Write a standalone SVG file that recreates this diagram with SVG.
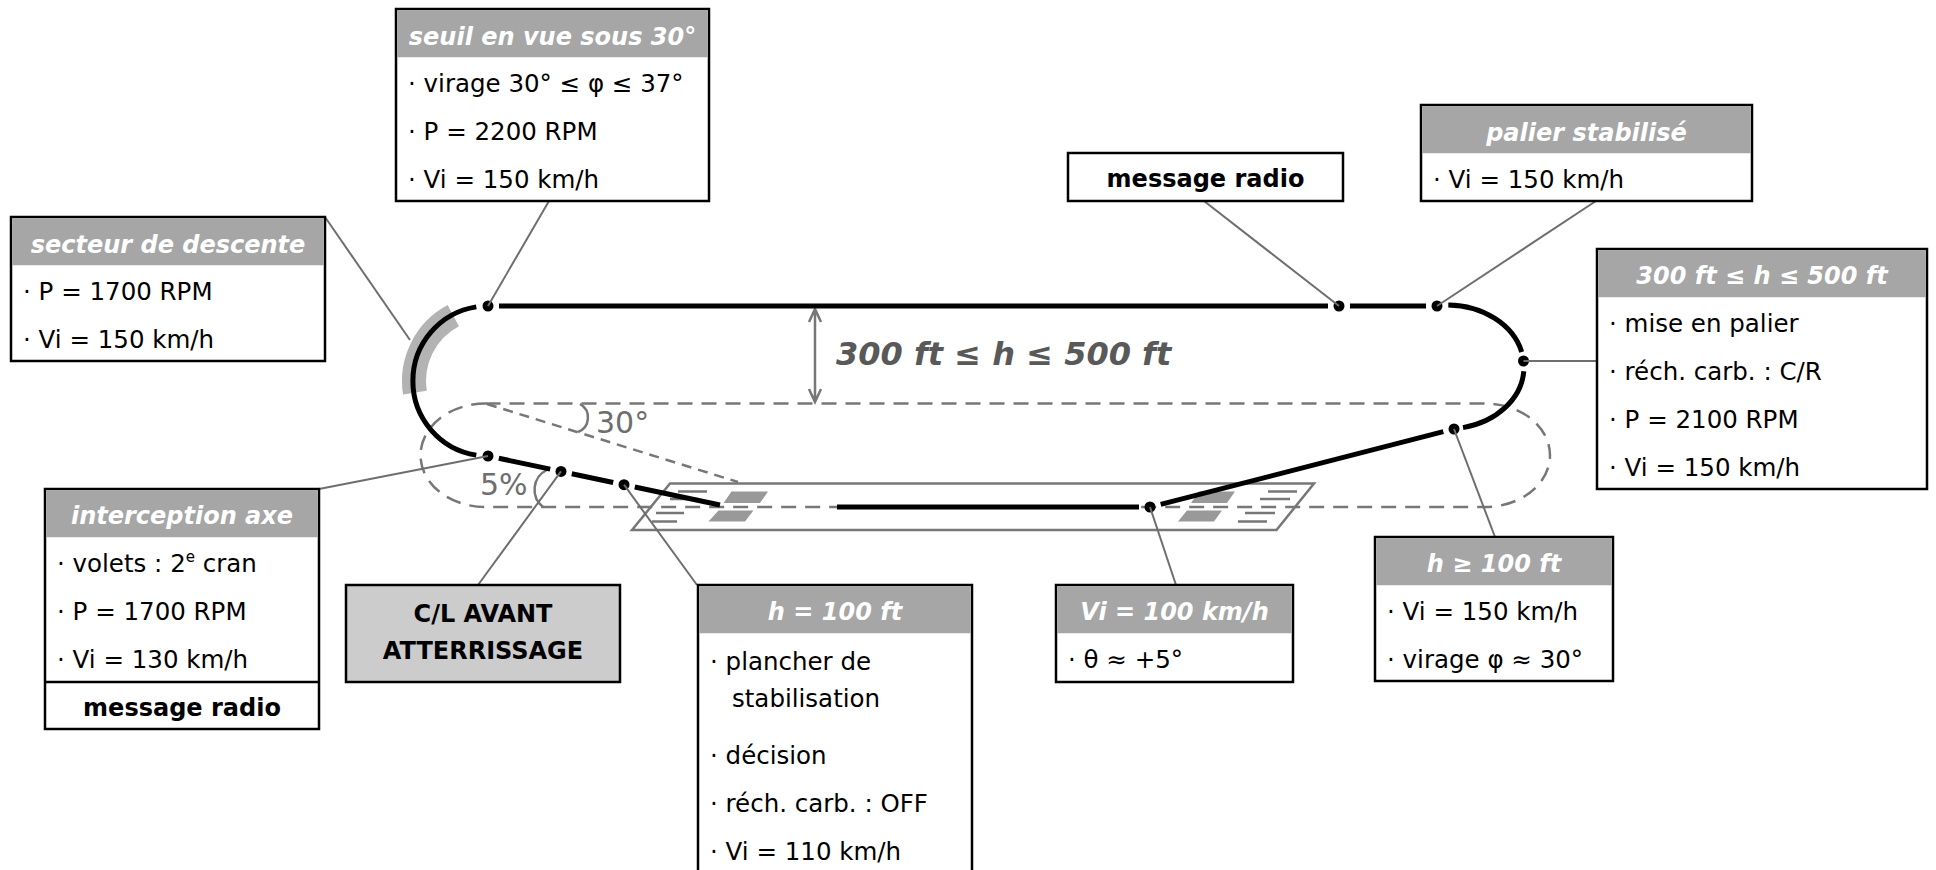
<svg xmlns="http://www.w3.org/2000/svg" width="1936" height="870" viewBox="0 0 1936 870">
<style>
.box{fill:#fff;stroke:#000;stroke-width:2.5}
.hdr{fill:#a6a6a6}
.ht{font-family:"DejaVu Sans",Verdana,sans-serif;font-size:24px;font-weight:bold;font-style:italic;fill:#fff;text-anchor:middle}
.bt{font-family:"DejaVu Sans",Verdana,sans-serif;font-size:24.5px;fill:#000}
.bb{font-family:"DejaVu Sans",Verdana,sans-serif;font-size:24px;font-weight:bold;fill:#000;text-anchor:middle}
.lead{stroke:#6e6e6e;stroke-width:2;fill:none}
.path{stroke:#000;stroke-width:5;fill:none}
.dot{fill:#000}
.dash{stroke:#777;stroke-width:2.5;fill:none;stroke-dasharray:15 9}
.thin{stroke:#777;stroke-width:2.5;fill:none}
.mark{fill:#999}
.gt{font-family:"DejaVu Sans",Verdana,sans-serif;font-size:30px;fill:#6e6e6e}
</style>

<g id="ground">
  <rect class="dash" x="420.5" y="403.5" width="1129.5" height="103.5" rx="65" ry="51.75"/>
  <polygon class="thin" points="670,483.5 1314,483.5 1276.5,530 632,530"/>
  <polygon class="mark" points="731.5,491.5 768,491.5 760,503 723.5,503"/>
  <polygon class="mark" points="718.5,510.5 753.5,510.5 745,521.5 708.5,521.5"/>
  <polygon class="mark" points="1199,491.5 1235,491.5 1227,503 1191,503"/>
  <polygon class="mark" points="1187,510.5 1222,510.5 1214,521.5 1178,521.5"/>
  <path class="thin" d="M678 491.5H707M670 499H698M656 513H684M652 521.5H677"/>
  <path class="thin" d="M1268 491.5H1297M1260 499H1290M1245 513H1275M1238 521.5H1267"/>
  <line x1="487" y1="404" x2="738" y2="482" stroke="#777" stroke-width="2.5" stroke-dasharray="10 7"/>
  <path class="thin" d="M580 404A15.5 15.5 0 0 1 578 432"/>
  <text class="gt" x="596" y="433">30°</text>
  <path class="thin" d="M546.7 470A22 22 0 0 0 543 507"/>
  <text class="gt" x="480" y="495">5%</text>
  <path class="thin" stroke-width="2" d="M815 309V402M809 322L815 309L821 322M809 389L815 402L821 389"/>
  <text x="836" y="365" font-family="'DejaVu Sans',Verdana,sans-serif" font-size="32" font-weight="bold" font-style="italic" fill="#595959">300 ft ≤ h ≤ 500 ft</text>
</g>

<g id="circuit">
  <path d="M414.9 392.6A74 74 0 0 1 453.3 315.7" stroke="#b3b3b3" stroke-width="24" fill="none"/>
  <path class="path" d="M476.3 306.9A75 75 0 0 0 476.3 455.1"/>
  <path class="path" d="M499 306H1328M1350 306H1426"/>
  <path class="path" d="M1448.3 305A77 62 0 0 1 1521.7 352"/>
  <path class="path" d="M1523.8 371.3A77 62 0 0 1 1463 427.6"/>
  <path class="path" d="M1443.3 431.7L1160.7 504.3M1139 507H837"/>
  <path class="path" d="M498.8 458.3L550.2 469.1M571.8 473.7L613.2 482.5M634.8 487L720 505"/>
  <circle class="dot" cx="488" cy="306" r="5.5"/>
  <circle class="dot" cx="1339" cy="306" r="5.5"/>
  <circle class="dot" cx="1437" cy="306" r="5.5"/>
  <circle class="dot" cx="1523.5" cy="361" r="5.5"/>
  <circle class="dot" cx="1454" cy="429" r="5.5"/>
  <circle class="dot" cx="1150" cy="507" r="5.5"/>
  <circle class="dot" cx="488" cy="456" r="5.5"/>
  <circle class="dot" cx="561" cy="471.4" r="5.5"/>
  <circle class="dot" cx="624" cy="484.7" r="5.5"/>
</g>

<g id="connectors">
  <line class="lead" x1="549" y1="201" x2="488" y2="306"/>
  <line class="lead" x1="325" y1="217" x2="410" y2="340"/>
  <line class="lead" x1="1204" y1="201" x2="1339" y2="306"/>
  <line class="lead" x1="1596" y1="201" x2="1437" y2="306"/>
  <line class="lead" x1="1523.5" y1="361" x2="1597" y2="361"/>
  <line class="lead" x1="1495" y1="537" x2="1454" y2="429"/>
  <line class="lead" x1="1176" y1="585" x2="1150" y2="507"/>
  <line class="lead" x1="697" y1="585" x2="624" y2="484.7"/>
  <line class="lead" x1="478" y1="585" x2="561" y2="471.4"/>
  <line class="lead" x1="319" y1="489" x2="488" y2="456"/>
</g>

<g id="seuil">
  <rect class="box" x="396" y="9" width="313" height="192"/>
  <rect class="hdr" x="397.25" y="10.25" width="310.5" height="47"/>
  <text class="ht" x="552.5" y="45">seuil en vue sous 30°</text>
  <text class="bt" x="408" y="92">· virage 30° ≤ φ ≤ 37°</text>
  <text class="bt" x="408" y="140">· P = 2200 RPM</text>
  <text class="bt" x="408" y="188">· Vi = 150 km/h</text>
</g>

<g id="secteur">
  <rect class="box" x="11" y="217" width="314" height="144"/>
  <rect class="hdr" x="12.25" y="218.25" width="311.5" height="47"/>
  <text class="ht" x="168" y="253">secteur de descente</text>
  <text class="bt" x="23" y="300">· P = 1700 RPM</text>
  <text class="bt" x="23" y="348">· Vi = 150 km/h</text>
</g>

<g id="msg-top">
  <rect class="box" x="1068" y="153" width="275" height="48"/>
  <text class="bb" x="1205.5" y="187">message radio</text>
</g>

<g id="palier">
  <rect class="box" x="1421" y="105" width="331" height="96"/>
  <rect class="hdr" x="1422.25" y="106.25" width="328.5" height="47"/>
  <text class="ht" x="1586.5" y="141">palier stabilisé</text>
  <text class="bt" x="1433" y="188">· Vi = 150 km/h</text>
</g>

<g id="palier-h">
  <rect class="box" x="1597" y="249" width="330" height="240"/>
  <rect class="hdr" x="1598.25" y="250.25" width="327.5" height="47"/>
  <text class="ht" x="1762" y="284">300 ft ≤ h ≤ 500 ft</text>
  <text class="bt" x="1609" y="332">· mise en palier</text>
  <text class="bt" x="1609" y="380">· réch. carb. : C/R</text>
  <text class="bt" x="1609" y="428">· P = 2100 RPM</text>
  <text class="bt" x="1609" y="476">· Vi = 150 km/h</text>
</g>

<g id="h-ge-100">
  <rect class="box" x="1375" y="537" width="238" height="144"/>
  <rect class="hdr" x="1376.25" y="538.25" width="235.5" height="47"/>
  <text class="ht" x="1494" y="572">h ≥ 100 ft</text>
  <text class="bt" x="1387" y="620">· Vi = 150 km/h</text>
  <text class="bt" x="1387" y="668">· virage φ ≈ 30°</text>
</g>

<g id="vi-100">
  <rect class="box" x="1056" y="585" width="237" height="97"/>
  <rect class="hdr" x="1057.25" y="586.25" width="234.5" height="47"/>
  <text class="ht" x="1174.5" y="620">Vi = 100 km/h</text>
  <text class="bt" x="1068" y="668">· θ ≈ +5°</text>
</g>

<g id="h-100">
  <rect class="box" x="698" y="585" width="274" height="292"/>
  <rect class="hdr" x="699.25" y="586.25" width="271.5" height="47"/>
  <text class="ht" x="835" y="620">h = 100 ft</text>
  <text class="bt" x="710" y="670">· plancher de</text>
  <text class="bt" x="732" y="707">stabilisation</text>
  <text class="bt" x="710" y="764">· décision</text>
  <text class="bt" x="710" y="812">· réch. carb. : OFF</text>
  <text class="bt" x="710" y="860">· Vi = 110 km/h</text>
</g>

<g id="checklist">
  <rect class="box" x="346" y="585" width="274" height="97" style="fill:#cccccc"/>
  <text class="bb" x="483" y="622">C/L AVANT</text>
  <text class="bb" x="483" y="659">ATTERRISSAGE</text>
</g>

<g id="interception">
  <rect class="box" x="45" y="489" width="274" height="240"/>
  <rect class="hdr" x="46.25" y="490.25" width="271.5" height="47"/>
  <text class="ht" x="182" y="524">interception axe</text>
  <text class="bt" x="57" y="572">· volets : 2<tspan font-size="15" dy="-10">e</tspan><tspan dy="10"> cran</tspan></text>
  <text class="bt" x="57" y="620">· P = 1700 RPM</text>
  <text class="bt" x="57" y="668">· Vi = 130 km/h</text>
  <line x1="45" y1="682" x2="319" y2="682" stroke="#000" stroke-width="2.5"/>
  <text class="bb" x="182" y="716">message radio</text>
</g>
</svg>
